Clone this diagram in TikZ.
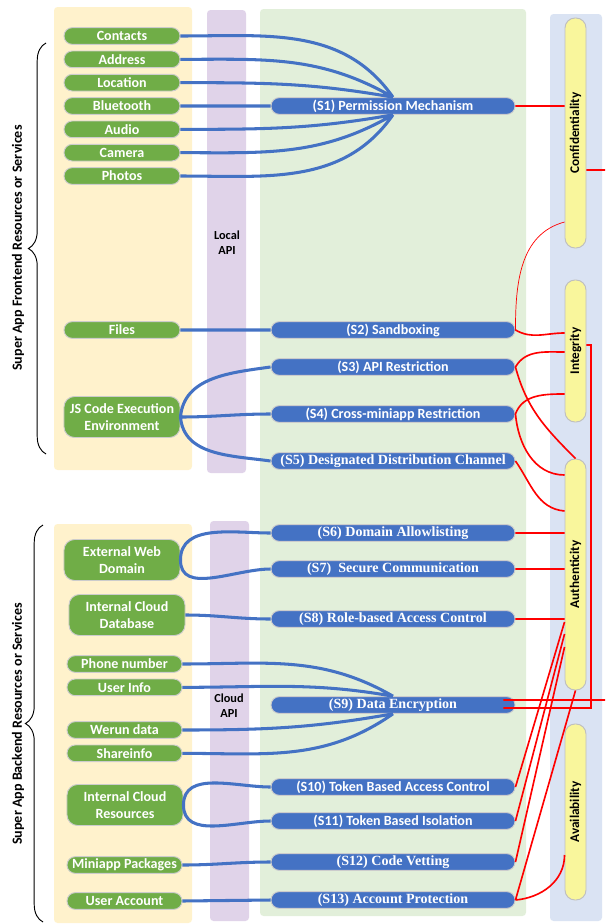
\documentclass[tikz,border=0pt]{standalone}
\usepackage{fontspec}
\usepackage{tikz}
\usetikzlibrary{arrows}
\usetikzlibrary{decorations.pathreplacing}
\newfontfamily\calibfont{Carlito}
\newfontfamily\timesfont{Liberation Serif}
\definecolor{resgreen}{HTML}{70AD47}
\definecolor{secblue}{HTML}{4472C4}
\definecolor{goalyellow}{HTML}{F9F69C}
\definecolor{panelorange}{HTML}{FFF2CC}
\definecolor{panelpurple}{HTML}{E0D3E9}
\definecolor{panelgreen}{HTML}{E2EFDA}
\definecolor{panelblue}{HTML}{DAE3F3}

\begin{document}
\begin{tikzpicture}[x=0.03cm,y=0.03cm,thick,node distance=0.7cm,
	res node/.style={rounded corners=7pt,draw=black!20,line width=0.8pt,fill=resgreen,text=white,font=\calibfont\bfseries\fontsize{12}{14}\selectfont,minimum width=3.48cm,minimum height=0.5cm,inner sep=0.5pt,align=center},
	big node/.style={res node,minimum height=1.23cm,rounded corners=9pt},
	sec node/.style={rounded corners=7pt,draw=black!20,line width=0.8pt,fill=secblue,text=white,font=\calibfont\bfseries\fontsize{12}{13}\selectfont,minimum width=7.32cm,minimum height=0.5cm,inner sep=0.5pt},
	tsec node/.style={sec node,font=\timesfont\bfseries\fontsize{12}{13}\selectfont},
	goal node/.style={rotate=90,rounded corners=0.3cm,draw=black!25,line width=0.8pt,fill=goalyellow,font=\calibfont\bfseries\fontsize{11.3}{12}\selectfont,minimum height=0.63cm,inner sep=1pt},
	side label/.style={rotate=90,font=\calibfont\bfseries\fontsize{12}{13}\selectfont},
	api label/.style={align=center,font=\calibfont\bfseries\fontsize{10.5}{13}\selectfont},
	blue link/.style={draw=secblue,line width=2.6pt},
	red link/.style={draw=red,line width=1.4pt}]

	\useasboundingbox (0,0) rectangle (605,-924);

	% panels
	\fill[panelorange,rounded corners=3pt] (54,-7) rectangle (192,-470);
	\fill[panelorange,rounded corners=3pt] (54,-524) rectangle (192,-923);
	\fill[panelpurple,rounded corners=3pt] (207,-10) rectangle (246,-473);
	\fill[panelpurple,rounded corners=3pt] (210,-521) rectangle (249,-921);
	\fill[panelgreen,rounded corners=3pt] (260,-9) rectangle (526,-916);
	\fill[panelblue,rounded corners=3pt] (550,-14) rectangle (602,-921);

	\node[api label] (localapi) at (227,-243) {Local\\API};
	\node[api label] (cloudapi) at (229,-706) {Cloud\\API};

	% braces and side labels
	\draw[line width=0.8pt,decorate,decoration={brace,amplitude=15pt}] (46,-454) -- (46,-43);
	\draw[line width=0.8pt,decorate,decoration={brace,amplitude=15pt}] (43,-922) -- (43,-525);
	\node[side label] (frontlabel) at (18,-248) {Super App Frontend Resources or Services};
	\node[side label] (backlabel) at (18,-724) {Super App Backend Resources or Services};

	% frontend resources
	\node[res node] (contacts) at (122,-36) {Contacts};
	\node[res node] (address) [below of=contacts] {Address};
	\node[res node] (location) [below of=address] {Location};
	\node[res node] (bluetooth) [below of=location] {Bluetooth};
	\node[res node] (audio) [below of=bluetooth] {Audio};
	\node[res node] (camera) [below of=audio] {Camera};
	\node[res node] (photos) [below of=camera] {Photos};
	\node[res node] (files) at (122,-330) {Files};
	\node[big node] (jscode) at (122,-417) {JS Code Execution\\Environment};

	% backend resources
	\node[big node] (extweb) at (122,-560) {External Web\\Domain};
	\node[big node] (intdb) at (127,-615) {Internal Cloud\\Database};
	\node[res node,minimum width=3.45cm] (phone) at (124.5,-664) {Phone number};
	\node[res node,minimum width=3.45cm] (userinfo) [below of=phone] {User Info};
	\node[res node,minimum width=3.45cm] (werun) at (124.5,-730) {Werun data};
	\node[res node,minimum width=3.45cm] (shareinfo) [below of=werun] {Shareinfo};
	\node[big node] (intres) at (125,-805) {Internal Cloud\\Resources};
	\node[res node,minimum width=3.45cm] (miniapp) at (124.5,-865) {Miniapp Packages};
	\node[res node,minimum width=3.45cm] (useracc) at (124.5,-901) {User Account};

	% security mechanisms
	\node[sec node] (s1) at (393,-106) {(S1) Permission Mechanism};
	\node[sec node] (s2) at (393,-330) {(S2) Sandboxing};
	\node[sec node] (s3) at (393,-367) {(S3) API Restriction};
	\node[sec node] (s4) at (393,-414) {(S4) Cross-miniapp Restriction};
	\node[tsec node] (s5) at (393,-461) {(S5) Designated Distribution Channel};
	\node[tsec node] (s6) at (393,-533) {(S6) Domain Allowlisting};
	\node[tsec node] (s7) at (393,-569) {(S7)~ Secure Communication};
	\node[tsec node] (s8) at (393,-619) {(S8) Role-based Access Control};
	\node[tsec node] (s9) at (393,-705) {(S9) Data Encryption};
	\node[sec node] (s10) at (393,-787) {(S10) Token Based Access Control};
	\node[sec node] (s11) at (393,-821) {(S11) Token Based Isolation};
	\node[tsec node] (s12) at (393,-862) {(S12) Code Vetting};
	\node[tsec node] (s13) at (393,-900) {(S13) Account Protection};

	% security goals
	\node[goal node,minimum width=6.9cm] (conf) at (575.5,-133) {Confidentiality};
	\node[goal node,minimum width=4.26cm] (integ) at (575.5,-351) {Integrity};
	\node[goal node,minimum width=6.93cm] (auth) at (575.5,-574.5) {Authenticity};
	\node[goal node,minimum width=5.28cm] (avail) at (575.5,-812) {Availability};

	\coordinate (rimtop) at (605,-170);
	\coordinate (rimmid) at (605,-700);
	\coordinate (intjog) at (591,-345);

	\path[blue link]
	(contacts.east) to[out=0,in=125] (s1.north)
	(address.east) to[out=0,in=150] (s1.north)
	(location.east) to[out=0,in=170] (s1.north)
	(bluetooth.east) -- (s1.west)
	(audio.east) to[out=0,in=190] (s1.south)
	(camera.east) to[out=0,in=210] (s1.south)
	(photos.east) to[out=0,in=235] (s1.south)
	(files.east) -- (s2.west)
	(jscode.east) to[out=85,in=188] (s3.west)
	(jscode.east) to[out=0,in=180] (s4.west)
	(jscode.east) to[out=-85,in=172] (s5.west)
	(extweb.east) to[out=90,in=180] (s6.west)
	(extweb.east) to[out=-90,in=180] (s7.west)
	(intdb.east) to[out=0,in=180] (s8.west)
	(phone.east) to[out=0,in=150] (s9.north)
	(userinfo.east) to[out=0,in=170] (s9.north)
	(werun.east) to[out=0,in=190] (s9.south)
	(shareinfo.east) to[out=0,in=215] (s9.south)
	(intres.east) to[out=90,in=180] (s10.west)
	(intres.east) to[out=-90,in=180] (s11.west)
	(miniapp.east) to[out=0,in=180] (s12.west)
	(useracc.east) -- (s13.west);

	\path[red link]
	(s1.east) -- (conf.north |- s1.east)
	(conf.south |- rimtop) -- (rimtop)
	(s2.east) to[out=-30,in=180] (integ.north |- 0,-333)
	(s3.east) to[out=60,in=180] (integ.north |- 0,-352)
	(s3.east) to[out=-75,in=135] (auth.east)
	(s4.east) to[out=70,in=180] (integ.north |- 0,-394)
	(s4.east) to[out=-85,in=180] (auth.north |- 0,-475)
	(s5.east) to[out=-55,in=175] (auth.north |- 0,-511)
	(s6.east) -- (auth.north |- s6.east)
	(s7.east) -- (auth.north |- s7.east)
	(s8.east) -- (auth.north |- s8.east)
	([xshift=-0.36cm,yshift=0.15cm]s9.east) -- (rimmid)
	([xshift=-0.36cm,yshift=-0.09cm]s9.east) -| (intjog) -- (integ.south |- intjog)
	(s10.east) -- (auth.north |- 0,-622)
	(s11.east) -- (auth.north |- 0,-634)
	(s12.east) -- (auth.north |- 0,-647)
	(s13.east) -- (auth.west)
	(s13.east) to[out=5,in=-90] (avail.north |- 0,-855);
	\draw[red,line width=0.6pt] (s2.east) to[out=90,in=195] (conf.north |- 0,-222);

\end{tikzpicture}
\end{document}
